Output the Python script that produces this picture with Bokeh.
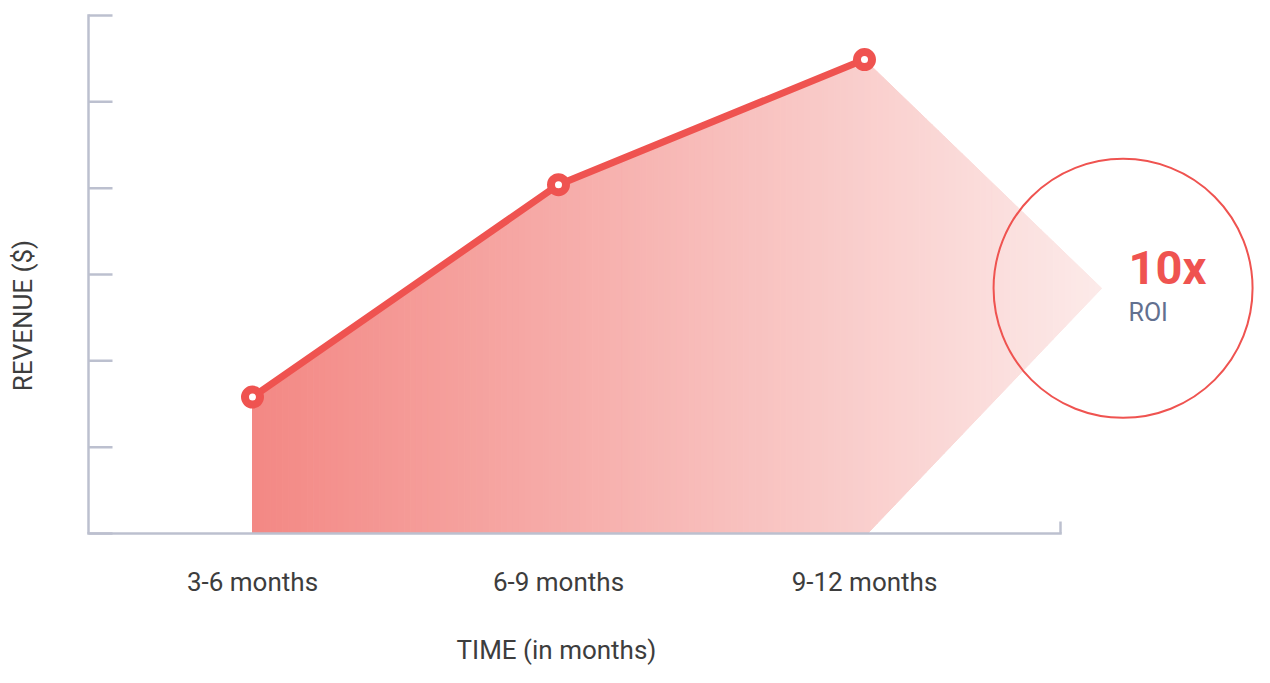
import numpy as np
from bokeh.plotting import figure
from bokeh.models import Range1d
from bokeh.core.properties import value
from bokeh.embed import file_html
from bokeh.resources import INLINE

# ---- data ----
periods = ["3-6 months", "6-9 months", "9-12 months"]
period_x = [1, 2, 3]
revenue = [1.58, 4.04, 5.49]
y_ticks = [0, 1, 2, 3, 4, 5, 6]
roi_value = "10x"
roi_label = "ROI"
arrow_tip = [3.775, 2.84]      # point of the projection toward the ROI badge
arrow_foot = [3.01, 0.0]       # where the projection meets the time axis
badge_center = [3.845, 2.84]
x_title = "TIME (in months)"
y_title = "REVENUE ($)"

# ---- styling ----
RED = "#ef5350"
AXIS = "#bcc0cf"
TXT = "#3d3d3d"
FONT = value("Roboto")
W, H = 1254, 667
SHIFT = 0.37   # baseline correction, fraction of font size

# layout helpers (pixel position on canvas -> data position)
PX_X, PX_Y = 306.0, 86.333
def xd(px):
    return 1 + (px - 252) / PX_X
def yd(py):
    return (533 - py) / PX_Y
def dx(n):
    return n / PX_X
def dy(n):
    return n / PX_Y
def base(py, fs):
    return yd(py - SHIFT * fs)

x_axis_start = xd(88)
x_axis_end = xd(1060)

p = figure(width=W, height=H, output_backend="svg", toolbar_location=None,
           x_range=Range1d(xd(0), xd(W)), y_range=Range1d(yd(H), yd(0)),
           x_axis_type=None, y_axis_type=None,
           min_border=0, min_border_left=0, min_border_right=0,
           min_border_top=0, min_border_bottom=0)
p.outline_line_color = None
p.grid.visible = False
p.background_fill_color = "white"
p.border_fill_color = "white"

# ---- gradient area (vertical strips) ----
up_x = period_x + [arrow_tip[0]]
up_y = revenue + [arrow_tip[1]]
lo_x = [period_x[0], arrow_foot[0], arrow_tip[0]]
lo_y = [0.0, arrow_foot[1], arrow_tip[1]]
c0 = np.array([243, 136, 132])
c1 = np.array([252, 234, 233])
N = 140
edges = np.linspace(period_x[0], arrow_tip[0], N + 1)
xs, ys, cols = [], [], []
for i in range(N):
    a, b = edges[i], edges[i + 1]
    ux = [a] + [v for v in up_x if a < v < b] + [b]
    lx = [a] + [v for v in lo_x if a < v < b] + [b]
    uy = list(np.interp(ux, up_x, up_y))
    ly = list(np.interp(lx, lo_x, lo_y))
    xs.append(ux + lx[::-1])
    ys.append(uy + ly[::-1])
    t = (0.5 * (a + b) - edges[0]) / (edges[-1] - edges[0])
    c = (c0 + (c1 - c0) * t).round().astype(int)
    cols.append("#%02x%02x%02x" % tuple(c))
p.patches(xs, ys, fill_color=cols, line_color=cols, line_width=1)

# ---- axes (drawn through the data scales) ----
p.segment(x0=[x_axis_start - dx(1.25)], y0=[0], x1=[x_axis_end + dx(1.25)], y1=[0],
          line_color=AXIS, line_width=2.5)
p.segment(x0=[x_axis_start], y0=[0], x1=[x_axis_start], y1=[y_ticks[-1] + dy(1.25)],
          line_color=AXIS, line_width=2.5)
p.segment(x0=[x_axis_start] * len(y_ticks), y0=y_ticks,
          x1=[x_axis_start + dx(24)] * len(y_ticks), y1=y_ticks,
          line_color=AXIS, line_width=2.5)
p.segment(x0=[x_axis_end], y0=[0], x1=[x_axis_end], y1=[dy(12)],
          line_color=AXIS, line_width=2.5)
p.text(x=period_x, y=[base(591, 26)] * len(period_x), text=periods, text_font=FONT,
       text_font_size="26px", text_color=TXT, text_align="center",
       text_baseline="alphabetic")

# ---- line and markers ----
p.line(period_x, revenue, line_width=7, line_color=RED, line_join="round")
p.scatter(period_x, revenue, size=15, line_width=8, line_color=RED, fill_color="white")

# ---- ROI badge ----
p.scatter([badge_center[0]], [badge_center[1]], size=259, fill_alpha=0,
          line_color=RED, line_width=2)
p.text(x=[xd(1128)], y=[base(284, 47)], text=[roi_value], text_font=FONT,
       text_font_size="47px", text_font_style="bold", text_color=RED,
       text_align="left", text_baseline="alphabetic")
p.text(x=[xd(1128)], y=[base(321, 25)], text=[roi_label], text_font=FONT,
       text_font_size="25px", text_color="#62708f",
       text_align="left", text_baseline="alphabetic")

# ---- axis titles ----
p.text(x=[xd(556)], y=[base(659, 26)], text=[x_title], text_font=FONT,
       text_font_size="26px", text_color=TXT, text_align="center",
       text_baseline="alphabetic")
p.text(x=[xd(32 - SHIFT * 26)], y=[yd(315)], text=[y_title], text_font=FONT,
       text_font_size="26px", text_color=TXT, text_align="center",
       text_baseline="alphabetic", angle=np.pi / 2)

open("out.html", "w").write(file_html(p, INLINE))
